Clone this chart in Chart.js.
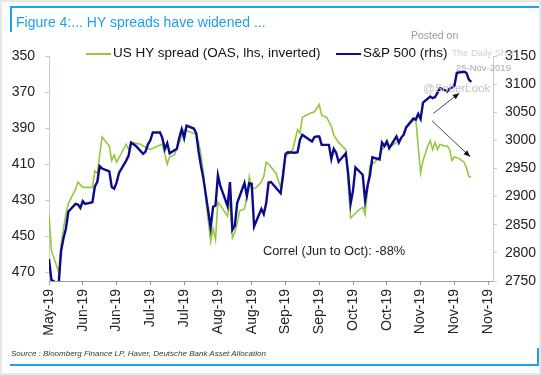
<!DOCTYPE html>
<html>
<head>
<meta charset="utf-8">
<script src="https://cdn.jsdelivr.net/npm/chart.js@4.4.1/dist/chart.umd.min.js"></script>
<style>
  html, body { margin: 0; padding: 0; background: #fff; }
  #page { position: relative; width: 541px; height: 375px; overflow: hidden; box-sizing: border-box; border: 2px solid #e8e8e8; font-family: "Liberation Sans", Arial, sans-serif; }
  #chartBox { position: absolute; left: -2px; top: -2px; width: 541px; height: 375px; }
  .abs { position: absolute; white-space: nowrap; }
  .frame { position: absolute; background: #1fa2ea; }
  #title { left: 14px; top: 12px; font-size: 14px; color: #1e9fe8; }
  #source { left: 9px; top: 347px; font-size: 8px; font-style: italic; color: #333; }
  #correl { left: 261px; top: 241px; font-size: 12.8px; color: #222; }
  .wm { color: #b5b5b5; }
  .leg { font-size: 13.5px; color: #111; }
  .legLine { position: absolute; height: 2px; }
</style>
</head>
<body>
<div id="page">
  <div id="chartBox"><canvas id="grafico"></canvas></div>
  <div class="frame" style="left:8px; top:4px; width:533px; height:2px;"></div>
  <div class="frame" style="left:8px; top:4px; width:2px; height:26px;"></div>
  <div class="frame" style="left:8px; top:362px; width:529px; height:2px;"></div>
  <div class="frame" style="left:535px; top:346px; width:2px; height:18px;"></div>
  <div id="title" class="abs">Figure 4:... HY spreads have widened ...</div>
  <div id="source" class="abs">Source : Bloomberg Finance LP, Haver, Deutsche Bank Asset Allocation</div>
  <div id="correl" class="abs">Correl (Jun to Oct): -88%</div>
  <div class="abs wm" style="left:409px; top:27px; font-size:10.5px; color:#9a9a9a;">Posted on</div>
  <div class="abs wm" style="left:450px; top:45px; font-size:9.5px; color:#cfcfcf;">The Daily Shot</div>
  <div class="abs wm" style="left:454px; top:60px; font-size:9.5px; color:#a8a8a8;">25-Nov-2019</div>
  <div class="abs wm" style="left:421px; top:80px; font-size:11.5px; color:#c2c2c2;">@SoberLook</div>
  <div id="legend"></div>
</div>
<script>
// days counted from 30-May-2019
const tickDays = [0, 14, 28, 42, 56, 70, 84, 98, 112, 126, 140, 154, 168, 182];
const tickLabels = ['May-19', 'Jun-19', 'Jun-19', 'Jul-19', 'Jul-19', 'Aug-19', 'Aug-19',
                    'Sep-19', 'Sep-19', 'Oct-19', 'Oct-19', 'Nov-19', 'Nov-19', 'Nov-19'];
const leftTicks = [350, 370, 390, 410, 430, 450, 470];
const rightTicks = [2750, 2800, 2850, 2900, 2950, 3000, 3050, 3100, 3150];

const spxDays = [0, 1, 4, 5, 6, 7, 8, 11, 12, 13, 14, 15, 18, 19, 20, 21, 22, 25, 26, 27, 28, 29,
  32, 33, 34, 36, 39, 40, 41, 42, 43, 46, 47, 48, 49, 50, 53, 54, 55, 56, 57, 60, 61, 62, 63, 64,
  67, 68, 69, 70, 71, 74, 75, 76, 77, 78, 81, 82, 83, 84, 85, 88, 89, 90, 91, 92,
  96, 97, 98, 99, 102, 103, 104, 105, 106, 109, 110, 111, 112, 113, 116, 117, 118, 119, 120,
  123, 124, 125, 126, 127, 130, 131, 132, 133, 134, 137, 138, 139, 140, 141, 144, 145, 146, 147, 148,
  151, 152, 153, 154, 155, 158, 159, 160, 161, 162, 165, 166, 167, 168, 169, 172, 173, 174, 175];
const spxValues = [2789, 2752, 2744, 2803, 2826, 2843, 2873, 2887, 2886, 2880, 2892, 2887, 2890, 2918, 2926, 2954, 2950, 2945, 2917, 2914, 2925, 2942,
  2964, 2973, 2996, 2990, 2976, 2980, 2993, 3000, 3014, 3014, 3004, 2984, 2995, 2977, 2985, 3005, 3020, 3004, 3026, 3021, 3013, 2980, 2954, 2932,
  2845, 2882, 2884, 2938, 2919, 2883, 2926, 2841, 2848, 2889, 2924, 2901, 2924, 2923, 2847, 2878, 2869, 2888, 2925, 2926,
  2906, 2938, 2976, 2979, 2978, 2979, 3001, 3010, 3007, 2998, 3006, 3007, 3007, 2992, 2992, 2967, 2985, 2978, 2962,
  2977, 2940, 2888, 2911, 2952, 2939, 2893, 2919, 2938, 2970, 2966, 2996, 2990, 2998, 2986, 3007, 2996, 3005, 3010, 3023,
  3039, 3037, 3047, 3038, 3067, 3078, 3075, 3077, 3085, 3093, 3087, 3092, 3094, 3097, 3120, 3122, 3120, 3108, 3104];

const hyDays = [0, 1, 4, 5, 6, 7, 8, 11, 12, 14, 15, 18, 19, 20, 22, 25, 26, 27, 28, 32, 33, 34, 38, 39, 42, 45, 47,
  49, 50, 52, 54, 56, 58, 60, 61, 62, 63, 64, 65, 67, 68, 69, 70, 71, 74, 75, 76, 77, 78, 79, 81, 82, 83, 84, 86,
  88, 89, 90, 91, 94, 96, 98, 101, 103, 104, 105, 108, 110, 112, 113, 115, 117, 118, 120, 123, 124, 125, 128, 130,
  131, 133, 135, 137, 138, 140, 142, 144, 146, 148, 150, 152, 154, 155, 157, 158, 159, 160, 161, 162, 164, 165,
  166, 167, 168, 170, 172, 173, 174, 175];
const hySpread = [438, 458, 470, 455, 446, 438, 432, 424, 420, 423, 423, 423, 414, 415, 395, 400, 408, 405, 409, 399, 402, 398, 399, 400, 402, 400, 399,
  410, 406, 405, 398, 391, 392, 393, 393, 398, 405, 415, 430, 453, 446, 452, 431, 433, 439, 430, 451, 448, 443, 436, 435, 428, 417, 424, 423,
  420, 417, 409, 410, 415, 423, 406, 402, 391, 393, 384, 382, 381, 377, 383, 384, 389, 394, 398, 402, 421, 440, 436, 434,
  438, 411, 409, 406, 402, 399, 400, 398, 396, 390, 387, 385, 415, 408, 400, 397, 402, 398, 402, 399, 400, 400,
  402, 408, 406, 407, 409, 412, 417, 417];

// arrows: [startDay, startSpx, endDay, endSpx]
const arrows = [[159.3, 3048, 170, 3084], [158.7, 3035, 174.5, 2971]];

const corSpx = '#0b0b8c';
const corHy = '#95c83f';

const pts = (xs, ys) => xs.map((x, i) => ({ x: x, y: ys[i] }));

const arrowPlugin = {
    id: 'arrows',
    afterDatasetsDraw(chart) {
        const ctx = chart.ctx;
        const xs = chart.scales.x, ys = chart.scales.y2;
        ctx.save();
        ctx.strokeStyle = '#333';
        ctx.fillStyle = '#111';
        ctx.lineWidth = 0.9;
        arrows.forEach(a => {
            const x1 = xs.getPixelForValue(a[0]), y1 = ys.getPixelForValue(a[1]);
            const x2 = xs.getPixelForValue(a[2]), y2 = ys.getPixelForValue(a[3]);
            const ang = Math.atan2(y2 - y1, x2 - x1);
            ctx.beginPath();
            ctx.moveTo(x1, y1);
            ctx.lineTo(x2, y2);
            ctx.stroke();
            ctx.beginPath();
            ctx.moveTo(x2, y2);
            ctx.lineTo(x2 - 7 * Math.cos(ang - 0.4), y2 - 7 * Math.sin(ang - 0.4));
            ctx.lineTo(x2 - 7 * Math.cos(ang + 0.4), y2 - 7 * Math.sin(ang + 0.4));
            ctx.closePath();
            ctx.fill();
        });
        ctx.restore();
    }
};

const ctx = document.getElementById('grafico').getContext('2d');
const grafico = new Chart(ctx, {
    type: 'line',
    data: {
        datasets: [{
            label: 'S&P 500 (rhs)',
            data: pts(spxDays, spxValues),
            borderColor: corSpx,
            borderWidth: 2.4,
            yAxisID: 'y2',
            pointRadius: 0,
            tension: 0
        },
        {
            label: 'US HY spread (OAS, lhs, inverted)',
            data: pts(hyDays, hySpread),
            borderColor: corHy,
            borderWidth: 1.6,
            yAxisID: 'y',
            pointRadius: 0,
            tension: 0
        }]
    },
    options: {
        responsive: true,
        maintainAspectRatio: false,
        animation: false,
        layout: { padding: { left: 0, right: 0, top: 56, bottom: 30 } },
        plugins: {
            legend: { display: false },
            tooltip: { enabled: false }
        },
        scales: {
            x: {
                type: 'linear',
                min: 0,
                max: 184,
                afterBuildTicks: s => { s.ticks = tickDays.map(v => ({ value: v })); },
                afterFit: s => { s.height = 64; },
                ticks: {
                    autoSkip: false,
                    maxRotation: 90,
                    minRotation: 90,
                    padding: 4,
                    color: '#222',
                    font: { family: 'Liberation Sans', size: 14 },
                    callback: (v, i) => tickLabels[i]
                },
                grid: { drawOnChartArea: false, drawTicks: true, tickLength: 4, color: '#999' },
                border: { color: '#999', dash: [2, 2] }
            },
            y: {
                position: 'left',
                reverse: true,
                min: 350,
                max: 475,
                afterBuildTicks: s => { s.ticks = leftTicks.map(v => ({ value: v })); },
                afterFit: s => { s.width = 49; },
                ticks: { padding: 10, color: '#222', font: { family: 'Liberation Sans', size: 14 }, callback: v => String(v) },
                grid: { drawOnChartArea: false, drawTicks: true, tickLength: 4, color: '#c8c8de' },
                border: { color: '#c8c8de' }
            },
            y2: {
                position: 'right',
                min: 2750,
                max: 3150,
                afterBuildTicks: s => { s.ticks = rightTicks.map(v => ({ value: v })); },
                afterFit: s => { s.width = 48; },
                ticks: { padding: 8, color: '#222', font: { family: 'Liberation Sans', size: 14 }, callback: v => String(v) },
                grid: { drawOnChartArea: false, drawTicks: true, tickLength: 4, color: '#c8c8de' },
                border: { color: '#c8c8de' }
            }
        }
    },
    plugins: [arrowPlugin]
});

// legend in the order of the reference, built from the datasets
const legendPos = [{ line: 84, text: 111 }, { line: 334, text: 361 }];
const legend = document.getElementById('legend');
[1, 0].forEach((di, k) => {
    const ds = grafico.data.datasets[di];
    const ln = document.createElement('div');
    ln.className = 'legLine';
    ln.style.left = legendPos[k].line + 'px';
    ln.style.top = '51px';
    ln.style.width = '25px';
    ln.style.background = ds.borderColor;
    legend.appendChild(ln);
    const tx = document.createElement('div');
    tx.className = 'abs leg';
    tx.style.left = legendPos[k].text + 'px';
    tx.style.top = '43px';
    tx.textContent = ds.label;
    legend.appendChild(tx);
});
</script>
</body>
</html>
